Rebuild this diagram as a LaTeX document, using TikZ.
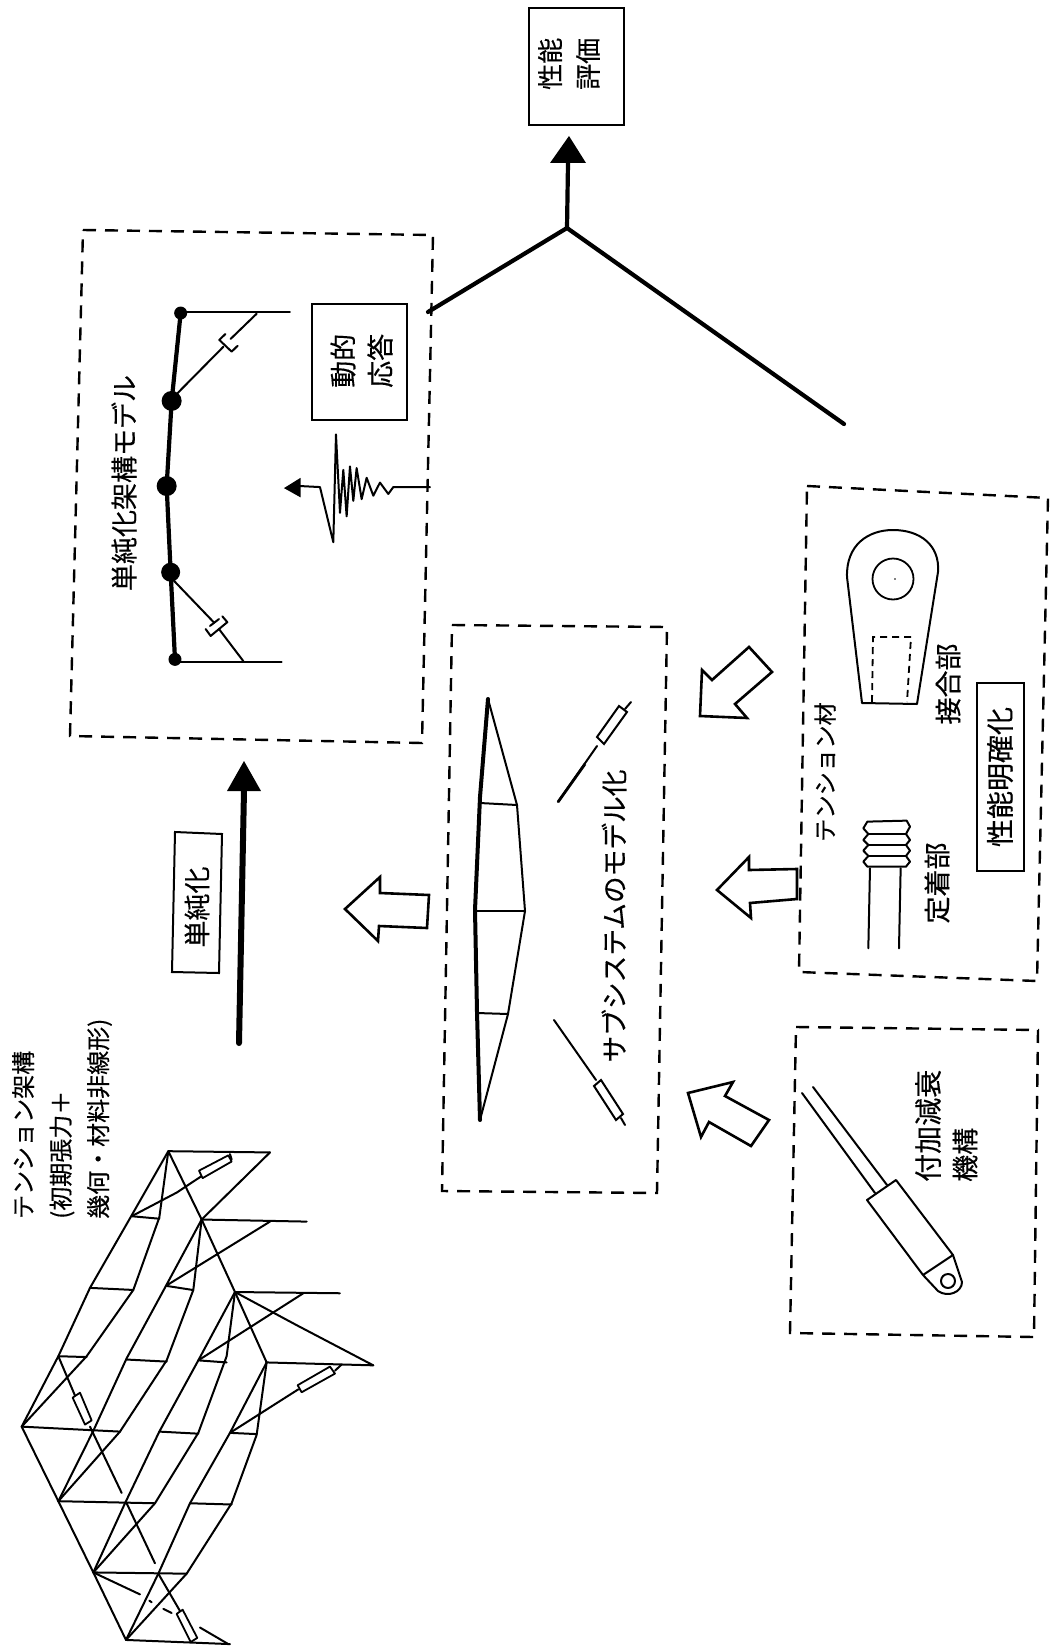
\documentclass[tikz,border=0pt]{standalone}
\usepackage{fontspec}
\setmainfont[FakeBold=0.4]{Noto Sans CJK JP}
\tikzset{
  lab/.style={rotate=90,inner sep=0pt,align=left,font=\fontsize{#1}{37.5}\selectfont},
  frame/.style={draw,line width=2.4pt,dash pattern=on 13pt off 9pt},
  bluntbox/.style={draw,line width=2pt},
  hollow/.style={draw,line width=2.6pt,fill=white,line join=miter},
  member/.style={line width=2pt,line cap=round,line join=round},
  heavy/.style={line width=4.2pt,line cap=round,line join=round},
}
\begin{document}
\begin{tikzpicture}[x=1pt,y=-1pt]
\useasboundingbox[fill=white] (0,0) rectangle (1053,1648);

% performance evaluation box and Y connector
\draw[bluntbox] (529,8) rectangle (624,125);
\node[lab=26,anchor=west] (seino) at (550,90) {性能};
\node[lab=26,anchor=west] (hyoka) at (588,90) {評価};
\coordinate (yj) at (567,228);
\coordinate (yl) at (428,312);
\coordinate (yr) at (844,424);
\coordinate (yt) at (568,163);
\draw[heavy] (yl) -- (yj) -- (yr);
\draw[heavy] (yj) -- (yt);
\fill (569,136) -- (586,163) -- (550,163) -- cycle;

% simplified frame
\draw[frame] (83,230) -- (433,235) -- (422,743) -- (70,736) -- cycle;
\node[lab=27] (tanjun) at (124,483) {単純化架構モデル};
\draw[bluntbox] (312,304) rectangle (407,420);
\node[lab=27,anchor=west] (doteki) at (343,388) {動的};
\node[lab=27,anchor=west] (oto) at (380,388) {応答};
\begin{scope}[xshift=60pt,yshift=-220pt,x=0.3333pt,y=-0.3446pt]
  \draw[line width=4.2pt,line cap=round,line join=round] (362,270) -- (335,525) -- (320,772) -- (332,1022) -- (345,1275);
  \fill (362,270) circle[radius=6.5pt];
  \fill (335,525) circle[radius=10pt];
  \fill (320,772) circle[radius=10pt];
  \fill (332,1022) circle[radius=9.5pt];
  \fill (345,1275) circle[radius=6.5pt];
  \draw[member] (362,268) -- (690,268);
  \draw[member] (345,1282) -- (665,1282);
  \draw[member] (345,510) -- (490,368);
  \draw[member] (590,272) -- (512,345);
  \draw[member] (496,331) -- (478,348) -- (515,382) -- (533,365);
  \draw[member] (335,1040) -- (462,1168);
  \draw[member] (450,1178) -- (477,1158);
  \draw[member] (437,1187) -- (452,1207) -- (502,1167) -- (487,1150);
  \draw[member] (477,1187) -- (550,1280);
  \draw[member] (1110,775) -- (1000,775) -- (985,795) -- (960,762) -- (940,800) -- (920,748) -- (905,810) -- (890,720) -- (880,815) -- (870,715) -- (860,860) -- (850,725) -- (840,850) -- (828,622) -- (820,935) -- (780,775) -- (720,772);
  \fill (672,778) -- (722,748) -- (722,805) -- cycle;
\end{scope}

% simplification arrow
\draw[bluntbox] (175,832) -- (222,834) -- (219,973) -- (172,972) -- cycle;
\node[lab=27] (tanjunka) at (197,907) {単純化};
\draw[line width=6pt,line cap=round] (239,1043) -- (244,790);
\fill[line join=round] (244,761) -- (261,791) -- (227,791) -- cycle;

% hollow arrows
\draw[hollow] (345,909) -- (380,877) -- (380,893) -- (429,895) -- (427,928) -- (379,926) -- (378,941) -- cycle;
\draw[hollow] (700,716) -- (702,670) -- (712,680) -- (749,647) -- (772,672) -- (735,704) -- (747,718) -- cycle;
\draw[hollow] (717,890) -- (749,857) -- (749,870) -- (797,869) -- (797,899) -- (750,903) -- (751,918) -- cycle;
\draw[hollow] (688,1093) -- (733,1082) -- (725,1096) -- (769,1120) -- (751,1146) -- (709,1122) -- (701,1137) -- cycle;

% subsystem model
\draw[frame] (452,625) -- (667,627) -- (657,1193) -- (442,1191) -- cycle;
\node[lab=26.7] (sub) at (614,916) {サブシステムのモデル化};
\draw[line width=4pt,line join=round,line cap=round] (488,699) -- (480,797) -- (475,910) -- (477,1012) -- (480,1120);
\draw[member] (488,699) -- (517,805) -- (525,911) -- (508,1014) -- (480,1120);
\draw[member] (480,803) -- (517,805);
\draw[member] (475,911) -- (525,911);
\draw[member] (477,1013) -- (508,1014);
\draw[member] (558,802) -- (597,746);
\draw[line width=2.8pt] (558,802) -- (585,764);
\draw[member] (625,709) -- (631,702);
\draw[hollow,line width=2pt] (597,737) -- (619,706) -- (627,712) -- (604,744) -- cycle;
\draw[member] (554,1020) -- (596,1080);
\draw[member] (621,1118) -- (625,1125);
\draw[hollow,line width=2pt] (594,1086) -- (601,1080) -- (623,1114) -- (616,1120) -- cycle;

% tension member
\draw[frame] (807,486) -- (1048,498) -- (1037,981) -- (799,972) -- cycle;
\node[lab=23.3] (tmem) at (825,772) {テンション材};
\node[lab=27] (setsu) at (948,684) {接合部};
\node[lab=27] (teichaku) at (937,883) {定着部};
\node[lab=28,bluntbox,minimum width=188pt,minimum height=47pt] (meikaku) at (1000,777) {性能明確化};
\draw[member] (862,703) -- (847,577) .. controls (846,545) and (868,530) .. (893,530) .. controls (920,530) and (940,545) .. (938,572) -- (917,704) -- cycle;
\draw[line width=1.8pt] (893,579) circle[radius=20.5pt];
\fill (895,579) circle[radius=0.8pt];
\draw[line width=1.8pt,dash pattern=on 7pt off 5pt] (872,702) -- (873,637) -- (911,637) -- (907,702);
\begin{scope}[xshift=780pt,yshift=-480pt,x=0.3333pt,y=-0.3333pt]
  \draw[member] (270,1165) -- (265,1405);
  \draw[member] (362,1165) -- (357,1405);
  \draw[member] (262,1025) -- (250,1045) -- (265,1062) -- (250,1080) -- (265,1095) -- (250,1112) -- (265,1128) -- (250,1145) -- (262,1160) -- (378,1160) -- (390,1145) -- (378,1128) -- (390,1112) -- (378,1095) -- (390,1080) -- (378,1062) -- (390,1040) -- (380,1022) -- cycle;
  \draw[member] (265,1062) -- (378,1062);
  \draw[member] (265,1095) -- (378,1095);
  \draw[member] (265,1128) -- (378,1128);
\end{scope}

% additional damping device
\draw[frame] (796,1027) -- (1038,1030) -- (1034,1337) -- (790,1333) -- cycle;
\node[lab=28,anchor=west] (fuka) at (928,1182) {付加減衰};
\node[lab=27,anchor=west] (kiko) at (965,1182) {機構};
\draw[member] (802,1093) -- (875,1193);
\draw[member] (813,1087) -- (887,1185);
\draw[member] (867,1200) -- (896,1180) -- (953,1255) -- (923,1275) -- cycle;
\draw[member] (923,1275) -- (938,1291) .. controls (948,1298) and (962,1292) .. (962,1282) -- (953,1255);
\draw[member] (948,1281) circle[radius=7pt];

% whole tension structure
\node[lab=24,anchor=west] (whole) at (62,1219) {テンション架構\\(初期張力＋\\幾何・材料非線形)};
\begin{scope}[yshift=-1000pt,x=0.3333pt,y=-0.4142pt,member]
  \draw (65,1030) -- (175,1210) -- (280,1382) -- (378,1545);
  \draw (505,365) -- (605,530) -- (705,705) -- (800,875);
  \draw (65,1030) -- (175,860) -- (270,695) -- (395,520) -- (505,365);
  \draw (65,1030) -- (260,860) -- (400,700) -- (478,525) -- (505,365);
  \draw (175,860) -- (260,862);
  \draw (270,695) -- (400,700);
  \draw (395,522) -- (478,528);
  \draw (65,1030) -- (360,1042);
  \draw (175,1210) -- (280,1040) -- (380,865) -- (498,690) -- (605,530);
  \draw (175,1210) -- (360,1042) -- (500,870) -- (580,700) -- (605,530);
  \draw (380,868) -- (500,873);
  \draw (498,690) -- (578,700);
  \draw (175,1210) -- (465,1215);
  \draw (280,1382) -- (375,1215) -- (478,1042) -- (595,870) -- (705,705);
  \draw (280,1382) -- (465,1215) -- (595,1045) -- (680,860) -- (705,705);
  \draw (478,1042) -- (595,1047);
  \draw (595,870) -- (680,875);
  \draw (280,1382) -- (560,1385);
  \draw (378,1545) -- (475,1385) -- (570,1215) -- (690,1045) -- (800,875);
  \draw (378,1545) -- (560,1385) -- (695,1215) -- (770,1050) -- (800,875);
  \draw (570,1215) -- (695,1218);
  \draw (690,1045) -- (770,1048);
  \draw (378,1545) -- (690,1555);
  \draw (505,365) -- (810,368);
  \draw (605,530) -- (920,535);
  \draw (705,705) -- (1020,708);
  \draw (800,875) -- (1120,882);
  \draw (810,368) -- (605,530);
  \draw (810,535) -- (498,690);
  \draw (910,708) -- (595,870);
  \draw (705,705) -- (890,785) -- (1120,882);
  \draw (395,522) -- (530,465) -- (605,425);
  \draw (690,372) -- (695,385);
  \draw (690,1045) -- (895,940);
  \draw (1005,895) -- (1025,880);
  \draw (175,860) -- (225,955);
  \draw (270,1030) -- (365,1190);
  \draw (380,1215) -- (465,1360);
  \draw (475,1385) -- (540,1475);
  \draw (280,1382) -- (420,1435);
  \draw (448,1450) -- (455,1454);
  \draw (490,1470) -- (515,1480);
  \draw (600,1515) -- (685,1555);
  \draw[fill=white,line width=1.8pt] (597,412) -- (685,375) -- (695,390) -- (608,430) -- cycle;
  \draw[fill=white,line width=1.8pt] (893,930) -- (990,885) -- (1005,902) -- (905,947) -- cycle;
  \draw[fill=white,line width=1.8pt] (218,960) -- (240,948) -- (275,1015) -- (255,1025) -- cycle;
  \draw[fill=white,line width=1.8pt] (530,1482) -- (548,1472) -- (592,1540) -- (572,1550) -- cycle;
\end{scope}
\end{tikzpicture}
\end{document}
